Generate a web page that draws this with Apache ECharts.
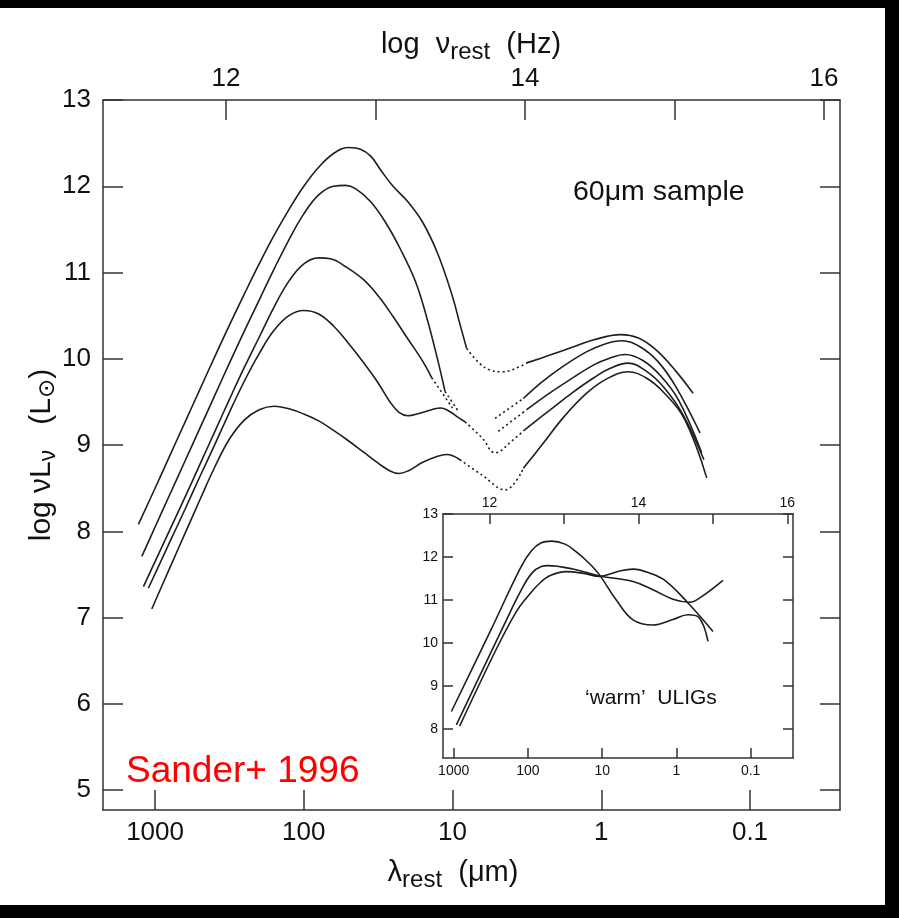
<!DOCTYPE html>
<html><head><meta charset="utf-8">
<script src="https://cdn.jsdelivr.net/npm/echarts@6/dist/echarts.min.js"></script>
<style>
html,body{margin:0;padding:0;background:#000;width:899px;height:918px;overflow:hidden}
#paper{position:absolute;left:0;top:8px;width:885px;height:897px;background:#fff}
#c{position:absolute;left:0;top:0;width:899px;height:918px}
</style></head><body>
<div id="paper"></div><div id="c"></div>
<script>
// ---- data: x = log10(lambda_rest / um), y = log(nu L_nu / Lsun) ----
// main panel: 60um sample, five luminosity bins; solid parts + dotted (interpolated) parts
const c1SolidA = [[3.112,8.08],[3.0,8.50],[2.9,8.88],[2.8,9.26],[2.7,9.64],[2.6,10.02],[2.5,10.39],[2.4,10.75],[2.3,11.10],[2.2,11.43],[2.1,11.73],[2.0,12.0],[1.9,12.22],[1.8,12.38],[1.7,12.45],[1.62,12.43],[1.55,12.35],[1.48,12.18],[1.4,12.0],[1.3,11.82],[1.2,11.58],[1.1,11.22],[1.0,10.72],[0.95,10.4],[0.905,10.12]];
const c1Dot = [[0.905,10.12],[0.82,9.95],[0.748,9.87],[0.66,9.85],[0.546,9.91],[0.506,9.95]];
const c1SolidB = [[0.506,9.95],[0.35,10.04],[0.2,10.13],[0.05,10.22],[-0.13,10.28],[-0.25,10.24],[-0.37,10.1],[-0.5,9.86],[-0.617,9.6]];

const c2SolidA = [[3.089,7.71],[3.0,8.05],[2.9,8.43],[2.8,8.81],[2.7,9.19],[2.6,9.57],[2.5,9.95],[2.4,10.32],[2.3,10.68],[2.2,11.04],[2.1,11.38],[2.0,11.68],[1.9,11.9],[1.8,12.0],[1.72,12.01],[1.65,11.97],[1.55,11.82],[1.45,11.58],[1.35,11.27],[1.25,10.9],[1.18,10.52],[1.11,10.06],[1.05,9.62]];
const c2DotA = [[1.05,9.62],[0.96,9.39]];
const c2DotB = [[0.714,9.31],[0.524,9.54]];
const c2SolidB = [[0.524,9.54],[0.4,9.73],[0.25,9.92],[0.1,10.08],[-0.02,10.17],[-0.137,10.21],[-0.26,10.14],[-0.38,9.97],[-0.5,9.68],[-0.664,9.14]];

const c3SolidA = [[3.078,7.36],[3.0,7.65],[2.9,8.02],[2.8,8.39],[2.7,8.77],[2.6,9.15],[2.5,9.53],[2.4,9.9],[2.3,10.25],[2.2,10.6],[2.1,10.9],[2.0,11.1],[1.9,11.17],[1.82,11.16],[1.72,11.07],[1.6,10.92],[1.5,10.73],[1.4,10.49],[1.3,10.23],[1.2,9.97],[1.14,9.78]];
const c3DotA = [[1.14,9.78],[1.0,9.43]];
const c3DotB = [[0.692,9.16],[0.502,9.41]];
const c3SolidB = [[0.502,9.41],[0.35,9.6],[0.2,9.77],[0.05,9.93],[-0.06,10.01],[-0.16,10.05],[-0.28,9.98],[-0.4,9.8],[-0.52,9.52],[-0.675,8.91]];

const c4SolidA = [[3.045,7.34],[2.9,7.88],[2.8,8.25],[2.7,8.63],[2.6,9.0],[2.5,9.38],[2.4,9.74],[2.3,10.06],[2.2,10.33],[2.1,10.5],[2.0,10.56],[1.9,10.52],[1.8,10.38],[1.7,10.18],[1.6,9.96],[1.5,9.72],[1.42,9.5],[1.36,9.38],[1.3,9.34],[1.22,9.37],[1.14,9.41],[1.08,9.43],[1.02,9.39],[0.97,9.33],[0.916,9.27]];
const c4Dot = [[0.916,9.27],[0.8,9.08],[0.714,8.91],[0.6,9.05],[0.513,9.18]];
const c4SolidB = [[0.513,9.18],[0.35,9.4],[0.2,9.6],[0.05,9.78],[-0.06,9.89],[-0.18,9.95],[-0.3,9.86],[-0.42,9.67],[-0.55,9.35],[-0.69,8.83]];

const c5SolidA = [[3.022,7.10],[2.9,7.58],[2.8,7.97],[2.7,8.36],[2.6,8.74],[2.5,9.07],[2.4,9.29],[2.3,9.41],[2.2,9.45],[2.1,9.42],[2.0,9.36],[1.9,9.28],[1.8,9.17],[1.7,9.05],[1.6,8.92],[1.5,8.79],[1.42,8.7],[1.36,8.67],[1.3,8.7],[1.2,8.8],[1.1,8.87],[1.04,8.89],[0.95,8.83]];
const c5Dot = [[0.95,8.83],[0.8,8.65],[0.647,8.48],[0.524,8.73]];
const c5SolidB = [[0.524,8.73],[0.4,9.0],[0.25,9.33],[0.1,9.6],[-0.04,9.77],[-0.18,9.85],[-0.3,9.78],[-0.42,9.61],[-0.56,9.3],[-0.709,8.62]];

// inset: 'warm' ULIGs
const wA = [[3.031,8.41],[2.5,10.3],[2.1,11.75],[1.95,12.15],[1.82,12.33],[1.684,12.37],[1.50,12.3],[1.348,12.12],[1.19,11.88],[1.034,11.58],[0.81,11.0],[0.585,10.54],[0.316,10.42],[0.047,10.55],[-0.156,10.66],[-0.30,10.6],[-0.425,10.04]];
const wB = [[2.964,8.1],[2.3,10.5],[2.1,11.2],[1.95,11.62],[1.82,11.78],[1.73,11.8],[1.394,11.72],[1.034,11.56],[0.585,11.43],[0.316,11.24],[0.047,11.02],[-0.178,10.95],[-0.313,11.05],[-0.627,11.46]];
const wC = [[2.92,8.07],[2.4,9.95],[2.15,10.75],[2.02,11.05],[1.85,11.38],[1.70,11.57],[1.48,11.66],[1.25,11.62],[1.034,11.55],[0.80,11.66],[0.585,11.72],[0.35,11.62],[0.135,11.43],[-0.178,10.89],[-0.492,10.27]];

// ticks
const lamTicks = [3,2,1,0,-1];
const lamTickLabels = ['1000','100','10','1','0.1'];
const nuTicks = [12,13,14,15,16];
const nuTickLabels = [12,14,16];
const yTicks = [5,6,7,8,9,10,11,12,13];
const insetYTicks = [8,9,10,11,12,13];

const FF = 'Liberation Sans, Arial, Helvetica, sans-serif';
const AX = '#333', LN = '#1e1e1e', TX = '#111';
const lamFmt = v => lamTickLabels[lamTicks.indexOf(Math.round(v))] || '';

function xAx(grid, pos, min, max, inverse, tickVals, labVals, fmt, fs, tl, margin) {
  return {type:'value', gridIndex:grid, position:pos, min, max, inverse,
    axisLine:{show:true, onZero:false, lineStyle:{color:AX, width:1.5}},
    axisTick:{show:true, inside:true, length:tl, customValues:tickVals, lineStyle:{color:AX, width:1.5}},
    axisLabel:{show:labVals.length>0, customValues:labVals, formatter:fmt, fontSize:fs, color:TX, margin, fontFamily:FF},
    splitLine:{show:false}};
}
function yAx(grid, pos, min, max, tickVals, labVals, fs, tl, margin, name, nameGap) {
  return {type:'value', gridIndex:grid, position:pos, min, max,
    axisLine:{show:true, onZero:false, lineStyle:{color:AX, width:1.5}},
    axisTick:{show:true, inside:true, length:tl, customValues:tickVals, lineStyle:{color:AX, width:1.5}},
    axisLabel:{show:labVals.length>0, customValues:labVals, fontSize:fs, color:TX, margin, fontFamily:FF},
    splitLine:{show:false}, name:name||'', nameLocation:'middle', nameGap:nameGap||0, nameRotate:90,
    nameMoveOverlap:false,
    nameTextStyle:{fontFamily:FF, color:TX, fontSize:30,
      rich:{a:{fontSize:30, color:TX, fontFamily:FF},
            s:{fontSize:23, color:TX, padding:[13,0,0,0], fontFamily:FF},
            o:{fontSize:23, color:TX, padding:[13,0,0,0], fontFamily:'DejaVu Sans, sans-serif'}}}};
}
function seg(data, xi, yi, dotted) {
  return {type:'line', data, xAxisIndex:xi, yAxisIndex:yi, smooth:0.4, symbol:'none', silent:true,
    lineStyle:{color:LN, width:1.6, type: dotted ? [2,3] : 'solid'}};
}

const series = [];
[c1SolidA, c1SolidB, c2SolidA, c2SolidB, c3SolidA, c3SolidB, c4SolidA, c4SolidB, c5SolidA, c5SolidB]
  .forEach(d => series.push(seg(d, 0, 0, false)));
[c1Dot, c2DotA, c2DotB, c3DotA, c3DotB, c4Dot, c5Dot].forEach(d => series.push(seg(d, 0, 0, true)));
[wA, wB, wC].forEach(d => series.push(seg(d, 2, 2, false)));

const titleRich = {
  a:{fontSize:29, fill:TX, fontFamily:FF},
  s:{fontSize:24, fill:TX, fontFamily:FF, padding:[15,0,0,0]}
};

const chart = echarts.init(document.getElementById('c'), null, {renderer:'canvas'});
chart.setOption({
  animation:false,
  backgroundColor:'transparent',
  grid:[
    {left:103, top:100, right:59, bottom:108, containLabel:false},
    {left:443, top:514, right:106, bottom:160, containLabel:false, show:true, backgroundColor:'#fff', borderWidth:0}
  ],
  xAxis:[
    xAx(0,'bottom',-1.605,3.35,true,lamTicks,lamTicks,lamFmt,26,20,10),
    xAx(0,'top',11.177,16.107,false,nuTicks,nuTickLabels,v=>String(Math.round(v)),26,20,8),
    xAx(1,'bottom',-1.57,3.144,true,lamTicks,lamTicks,lamFmt,14,10,6),
    xAx(1,'top',11.374,16.076,false,nuTicks,nuTickLabels,v=>String(Math.round(v)),14,10,4)
  ],
  yAxis:[
    yAx(0,'left',4.77,13,yTicks,yTicks,26,20,12,'{a|log νL}{s|ν}{a|   (L}{o|⊙}{a|)}',43),
    yAx(0,'right',4.77,13,yTicks,[],26,20,12),
    yAx(1,'left',7.33,13,insetYTicks,insetYTicks,14,10,5),
    yAx(1,'right',7.33,13,insetYTicks,[],14,10,5)
  ],
  series,
  graphic:[
    {type:'text', x:471, y:45, style:{text:'{a|log  ν}{s|rest}{a|  (Hz)}', align:'center', verticalAlign:'middle', rich:titleRich}},
    {type:'text', x:453, y:873, style:{text:'{a|λ}{s|rest}{a|  (μm)}', align:'center', verticalAlign:'middle', rich:titleRich}},
    {type:'text', left:573, top:178, style:{text:'60μm sample', fontSize:28.5, fill:TX, fontFamily:FF}},
    {type:'text', left:126, top:753, style:{text:'Sander+ 1996', fontSize:37, fill:'#ff0000', fontFamily:FF}},
    {type:'text', left:585, top:688, style:{text:'‘warm’  ULIGs', fontSize:21, fill:TX, fontFamily:FF}}
  ]
});
</script>
</body></html>
